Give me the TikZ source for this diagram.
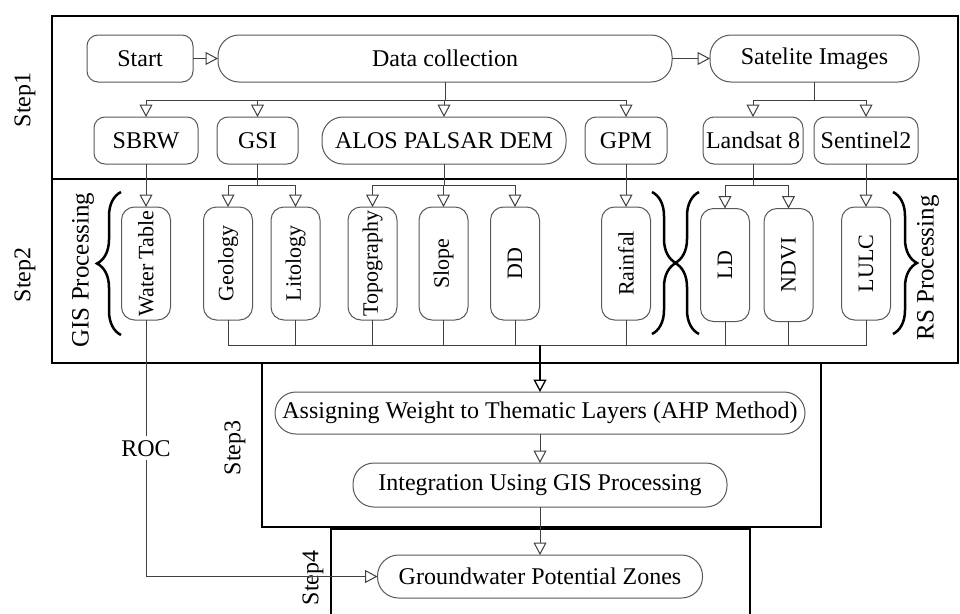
\documentclass[tikz,border=0pt]{standalone}
\usepackage{fontspec}
\setmainfont{Liberation Serif}
\usetikzlibrary{arrows.meta,decorations.pathreplacing,calc}
\begin{document}
\begin{tikzpicture}[x=1pt,y=-1pt,
  font=\fontsize{24}{28}\selectfont,
  every node/.style={inner sep=0pt, outer sep=0pt},
  frame/.style={draw=black, line width=2.5pt},
  rbox/.style={draw=black!65, line width=1pt, rounded corners=11pt, minimum height=47pt},
  pill/.style={draw=black!65, line width=1pt, rounded corners=21pt, minimum height=47pt},
  vbox/.style={draw=black!65, line width=1pt, rounded corners=13pt, minimum width=49pt, minimum height=113pt, font=\fontsize{22}{26}\selectfont},
  steplbl/.style={rotate=90, font=\fontsize{24}{28}\selectfont},
  conn/.style={draw=black!75, line width=1pt},
  arr/.style={conn, -{Triangle[open, length=12.5pt, width=13pt, line width=1pt]}},
  thickarr/.style={draw=black, line width=2pt, -{Triangle[open, length=12.5pt, width=13pt, line width=1.3pt]}},
  brc/.style={draw=black, decorate, decoration={brace, amplitude=24pt}, line width=2.5pt},
]
\useasboundingbox (0,0) rectangle (960,613);
\clip (0,0) rectangle (960,613);
\fill[white] (0,0) rectangle (960,613);

% frames
\draw[frame] (52,16) rectangle (958,179);
\draw[frame] (52,179) rectangle (958,363);
\draw[frame] (262,363) rectangle (821,527);
\draw[frame] (331,529) rectangle (750,660);

% step labels
\node[steplbl] (s1) at (25,100) {Step1};
\node[steplbl] (s2) at (25,275) {Step2};
\node[steplbl] (s3) at (235,448) {Step3};
\node[steplbl] (s4) at (313,578) {Step4};

% step 1
\node[rbox, minimum width=106pt] (start) at (140,58.5) {Start};
\node[pill, minimum width=454pt] (data) at (445,58.5) {Data collection};
\node[pill, minimum width=209pt] (sat) at (814.5,58.5) {Satelite Images};
\node[rbox, minimum width=104pt] (sbrw) at (146,140.5) {SBRW};
\node[rbox, minimum width=81pt] (gsi) at (257.5,140.5) {GSI};
\node[pill, minimum width=244pt] (alos) at (444,140.5) {ALOS PALSAR DEM};
\node[rbox, minimum width=82pt] (gpm) at (626,140.5) {GPM};
\node[rbox, minimum width=100pt] (landsat) at (753,140.5) {Landsat 8};
\node[rbox, minimum width=104pt] (sentinel) at (866,140.5) {Sentinel2};

\coordinate (b1) at (0,100);
\draw[arr] (start.east) -- (data.west);
\draw[arr] (data.east) -- (sat.west);
\foreach \n in {sbrw,gsi,alos,gpm}
  \draw[arr] (data.south) -- (data.south |- b1) -| (\n.north);
\foreach \n in {landsat,sentinel}
  \draw[arr] (sat.south) -- (sat.south |- b1) -| (\n.north);

% step 2
\node[steplbl, font=\fontsize{25}{28}\selectfont] (gisp) at (83,270) {GIS Processing};
\node[steplbl, font=\fontsize{25}{28}\selectfont] (rsp) at (928,268) {RS Processing};

\node[vbox] (wt) at (146,263.5) {\rotatebox{90}{Water Table}};
\node[vbox] (geo) at (228,263.5) {\rotatebox{90}{Geology}};
\node[vbox] (lit) at (295.5,263.5) {\rotatebox{90}{Litology}};
\node[vbox] (topo) at (372.5,263.5) {\rotatebox{90}{Topography}};
\node[vbox] (slope) at (443.5,263.5) {\rotatebox{90}{Slope}};
\node[vbox] (dd) at (515,263.5) {\rotatebox{90}{DD}};
\node[vbox] (rain) at (626,263.5) {\rotatebox{90}{Rainfal}};
\node[vbox] (ld) at (725,265) {\rotatebox{90}{LD}};
\node[vbox] (ndvi) at (788.5,265) {\rotatebox{90}{NDVI}};
\node[vbox] (lulc) at (866,263.5) {\rotatebox{90}{LULC}};

\draw[brc] (121,335) -- (121,192);
\draw[brc] (652,192) -- (652,334);
\draw[brc] (699,334) -- (699,192);
\draw[brc] (893,192) -- (893,334);

\coordinate (b2) at (0,185);
\draw[arr] (sbrw.south) -- (wt.north);
\draw[arr] (gpm.south) -- (rain.north);
\draw[arr] (sentinel.south) -- (lulc.north);
\foreach \n in {geo,lit}
  \draw[arr] (gsi.south) -- (gsi.south |- b2) -| (\n.north);
\foreach \n in {topo,slope,dd}
  \draw[arr] (alos.south) -- (alos.south |- b2) -| (\n.north);
\foreach \n in {ld,ndvi}
  \draw[arr] (landsat.south) -- (landsat.south |- b2) -| (\n.north);

% step 3 and 4
\node[pill, minimum width=530pt, minimum height=42pt] (ahp) at (540,413) {Assigning Weight to Thematic Layers (AHP Method)};
\node[pill, minimum width=374pt, minimum height=44pt] (integ) at (540,485) {Integration Using GIS Processing};
\node[pill, minimum width=325pt, minimum height=43pt] (gw) at (540,576.5) {Groundwater Potential Zones};

\coordinate (j) at (540,345);
\foreach \n in {geo,lit,topo,slope,dd,rain,ld,ndvi,lulc}
  \draw[conn] (\n.south) |- (j);
\draw[thickarr] (j) -- (ahp.north);
\draw[arr] (ahp.south) -- (integ.north);
\draw[arr] (integ.south) -- (gw.north);

\draw[arr] (wt.south) |- node[pos=0.25, fill=white, inner sep=4pt] (roc) {ROC} (gw.west);
\end{tikzpicture}
\end{document}
